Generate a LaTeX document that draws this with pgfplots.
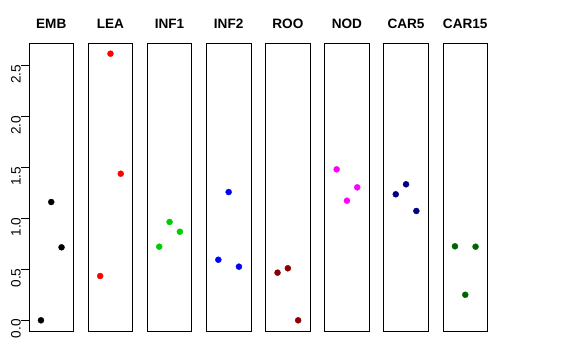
\documentclass[border=0pt]{standalone}
\usepackage{pgfplots}
\pgfplotsset{compat=1.18}
\usepackage{fontspec}
\setmainfont{Liberation Sans}
\definecolor{rgreen}{HTML}{00CD00}
\definecolor{rred}{HTML}{FF0000}
\definecolor{rblue}{HTML}{0000FF}
\definecolor{rdarkred}{HTML}{8B0000}
\definecolor{rmagenta}{HTML}{FF00FF}
\definecolor{rnavy}{HTML}{000080}
\definecolor{rdarkgreen}{HTML}{006400}
\pgfplotsset{panel/.style={scale only axis, width=44.5pt, height=288pt,
  xmin=-0.16, xmax=4.16, ymin=-0.105, ymax=2.724,
  xtick=\empty, ytick=\empty, anchor=south west,
  axis line style={line width=0.8pt},
  title style={at={(0.5,1)}, anchor=base, yshift=9pt, font=\fontsize{13.6}{16}\selectfont\bfseries}}}
\newcommand\panel[4]{%
\begin{axis}[panel, at={(#2,29pt)}, title={#1}]
\addplot[only marks, mark=*, mark size=3pt, color=#3] coordinates {#4};
\end{axis}}
\begin{document}
\begin{tikzpicture}
\path[use as bounding box] (0,0) rectangle (576pt,360pt);
\begin{axis}[panel, at={(29pt,29pt)}, title={EMB},
  ytick={0,0.5,1,1.5,2,2.5}, tick align=outside, major tick length=8pt,
  ytick pos=left,
  ytick style={line width=0.8pt, black},
  yticklabel style={rotate=90, anchor=south, inner sep=0pt, xshift=-8.5pt, font=\fontsize{13.6}{16}\selectfont},
  yticklabel={\pgfmathprintnumber[fixed, fixed zerofill, precision=1]{\tick}},
  /pgf/number format/assume math mode=true]
\addplot[only marks, mark=*, mark size=3pt, color=black] coordinates {(1,0.0) (2,1.162) (3,0.717)};
\end{axis}
\panel{LEA}{88.2pt}{rred}{(1,0.435) (2,2.619) (3,1.440)}
\panel{INF1}{147.3pt}{rgreen}{(1,0.723) (2,0.966) (3,0.870)}
\panel{INF2}{206.4pt}{rblue}{(1,0.595) (2,1.260) (3,0.527)}
\panel{ROO}{265.6pt}{rdarkred}{(1,0.468) (2,0.511) (3,0.0)}
\panel{NOD}{324.7pt}{rmagenta}{(1,1.483) (2,1.175) (3,1.306)}
\panel{CAR5}{383.8pt}{rnavy}{(1,1.238) (2,1.336) (3,1.074)}
\panel{CAR15}{443pt}{rdarkgreen}{(1,0.727) (2,0.251) (3,0.723)}
\end{tikzpicture}
\end{document}
